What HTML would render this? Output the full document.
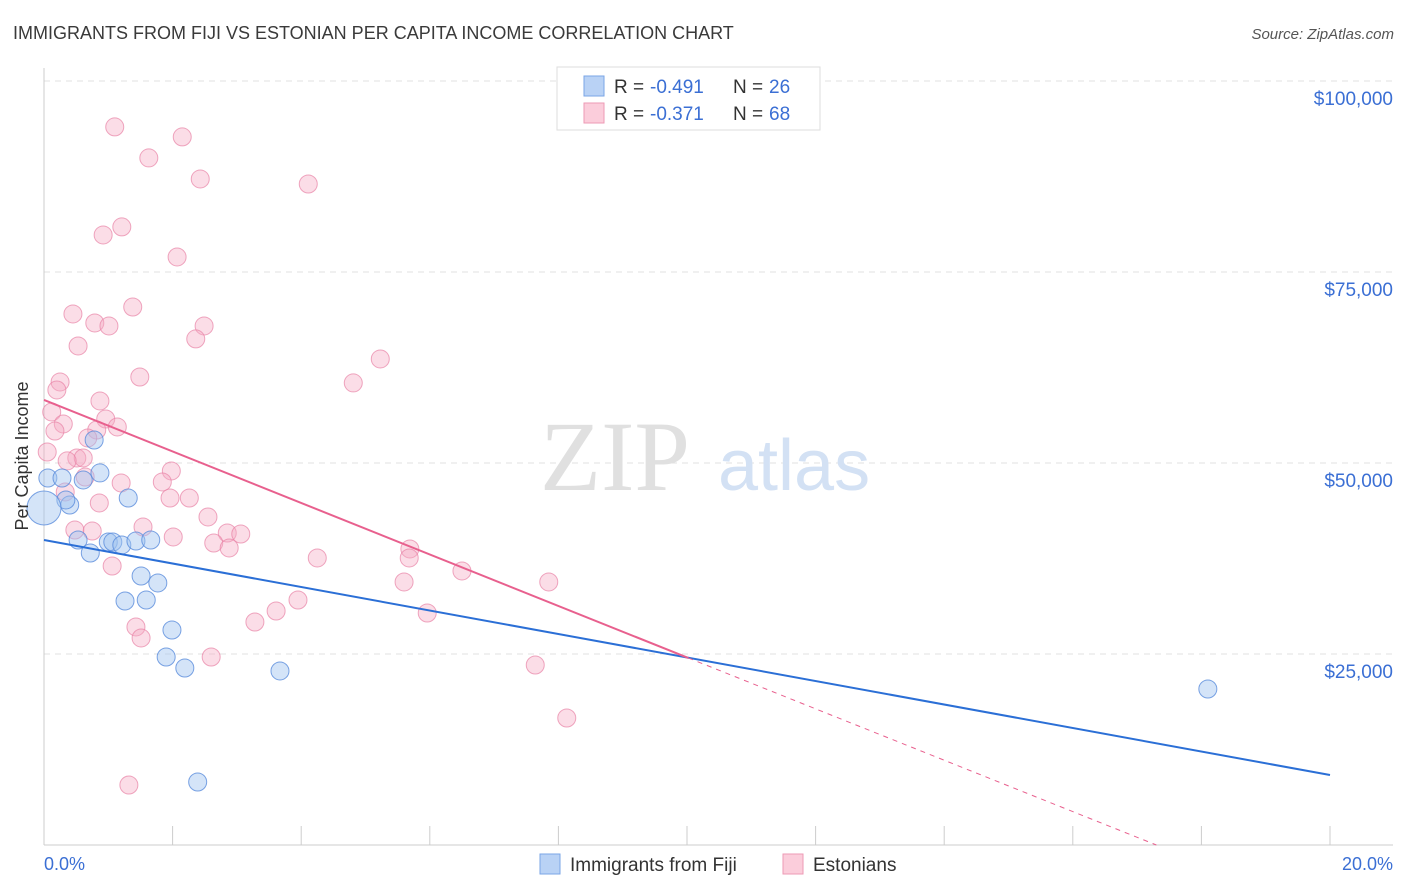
<!DOCTYPE html>
<html><head><meta charset="utf-8">
<style>
body{margin:0;background:#fff;font-family:"Liberation Sans",sans-serif;}
svg{display:block}
</style></head>
<body>
<svg width="1406" height="892" viewBox="0 0 1406 892">
<text x="13" y="39" font-size="18" fill="#3a3a3a">IMMIGRANTS FROM FIJI VS ESTONIAN PER CAPITA INCOME CORRELATION CHART</text>
<text x="1394" y="39" font-size="15" fill="#555" font-style="italic" text-anchor="end">Source: ZipAtlas.com</text>
<g id="grid"></g>
<g id="axes"></g>
<text x="690" y="490" font-size="100" fill="#e0e0e0" text-anchor="end" font-family="Liberation Serif,serif">ZIP</text>
<text x="718" y="490" font-size="72" fill="#d3e1f4">atlas</text>
<g id="pts"></g>
<g id="lines"></g>
<text transform="translate(28,456) rotate(-90)" font-size="18" fill="#333" text-anchor="middle">Per Capita Income</text>
<text x="44" y="870" font-size="18" fill="#3b6fd4">0.0%</text>
<text x="1393" y="870" font-size="18" fill="#3b6fd4" text-anchor="end">20.0%</text>
<g>
<rect x="557" y="67" width="263" height="63" fill="#fff" stroke="#ddd"/>
<rect x="584" y="76" width="20" height="20" fill="#b9d2f5" stroke="#7aa5e6"/>
<rect x="584" y="103" width="20" height="20" fill="#fbcddb" stroke="#ee9ab5"/>
<text x="614" y="93" font-size="19" fill="#333">R =</text>
<text x="650" y="93" font-size="19" fill="#3b6fd4">-0.491</text>
<text x="733" y="93" font-size="19" fill="#333">N =</text>
<text x="769" y="93" font-size="19" fill="#3b6fd4">26</text>
<text x="614" y="120" font-size="19" fill="#333">R =</text>
<text x="650" y="120" font-size="19" fill="#3b6fd4">-0.371</text>
<text x="733" y="120" font-size="19" fill="#333">N =</text>
<text x="769" y="120" font-size="19" fill="#3b6fd4">68</text>
</g>
<g>
<rect x="540" y="854" width="20" height="20" fill="#b9d2f5" stroke="#7aa5e6"/>
<text x="570" y="871" font-size="19" fill="#333">Immigrants from Fiji</text>
<rect x="783" y="854" width="20" height="20" fill="#fbcddb" stroke="#ee9ab5"/>
<text x="813" y="871" font-size="19" fill="#333">Estonians</text>
</g>
</svg>
<script>
const yTicks=[25000,50000,75000,100000];
const yTickLabels=["$25,000","$50,000","$75,000","$100,000"];
const xTicks=[0,2,4,6,8,10,12,14,16,18,20];
const fijiX=[0.06,0.28,0.40,0.34,0.61,0.87,0.78,0.53,0.72,1.0,1.07,1.21,1.31,1.43,1.66,1.51,1.77,1.26,1.59,1.99,1.90,2.19,3.67,2.39,18.1,0.0];
const fijiY=[48040,48040,44500,45160,47780,48700,53010,39920,38220,39660,39660,39270,45420,39790,39920,35210,34300,31940,32070,28140,24610,23170,22780,8250,20420,44110];
const fijiSize=[9,9,9,9,9,9,9,9,9,9,9,9,9,9,9,9,9,9,9,9,9,9,9,9,9,17];
const estX=[1.10,2.15,1.63,2.43,4.11,0.92,1.21,2.07,0.45,1.38,0.79,1.01,2.49,2.36,0.53,5.23,1.49,0.25,0.20,4.81,0.87,0.12,0.96,0.30,0.17,0.82,1.14,0.68,0.05,0.51,0.61,0.36,1.98,0.64,1.20,1.84,0.33,1.96,2.26,0.86,2.55,0.48,0.75,1.54,2.01,2.85,3.06,2.64,2.88,4.25,5.69,5.68,1.06,6.50,5.60,7.85,3.95,5.96,3.61,3.28,1.43,1.51,2.60,7.64,8.13,1.32];
const estY=[93990,92680,89930,87180,86520,79850,80900,76970,69510,70420,68330,67940,67940,66240,65320,63620,61260,60610,59560,60480,58120,56680,55760,55110,54190,54320,54720,53280,51440,50660,50660,50270,48960,48170,47390,47520,46210,45420,45420,44770,42940,41230,41100,41630,40320,40840,40710,39530,38880,37570,38750,37570,36520,35870,34430,34430,32070,30370,30630,29190,28540,27100,24610,23560,16620,7850];
const fijiTrend=[[0,39920],[20,9160]];
const estTrend=[[0,58250],[10.02,24480],[17.3,0]];
const NS="http://www.w3.org/2000/svg";
const X=v=>44+v/20*1286;
const Y=v=>845-v/25000*191;
function mk(t,a,p){const e=document.createElementNS(NS,t);for(const k in a)e.setAttribute(k,a[k]);p.appendChild(e);return e;}
const grid=document.getElementById('grid'),axes=document.getElementById('axes'),pts=document.getElementById('pts'),lines=document.getElementById('lines');
yTicks.forEach((v,i)=>{
 const l=mk('line',{x1:44,x2:1393,y1:Y(v),y2:Y(v),stroke:'#e2e2e2','stroke-dasharray':'6,5'},grid);
 
 
 const t=mk('text',{x:1393,y:Y(v)+24,'font-size':19,fill:'#3b6fd4','text-anchor':'end'},grid);
 t.textContent=yTickLabels[i];
 
 
});
mk('line',{x1:44,x2:44,y1:68,y2:845,stroke:'#ccc'},axes);
mk('line',{x1:44,x2:1393,y1:845,y2:845,stroke:'#ccc'},axes);
xTicks.forEach(v=>{
 const t=mk('line',{x1:X(v),x2:X(v),y1:826,y2:845,stroke:'#ccc'},axes);
 
 
});
estX.forEach((v,i)=>{
 const c=mk('circle',{cx:X(v),cy:Y(estY[i]),r:9,fill:'rgba(246,170,195,0.4)',stroke:'rgba(232,130,165,0.7)','stroke-width':1},pts);
 
 
});
fijiX.forEach((v,i)=>{
 const c=mk('circle',{cx:X(v),cy:Y(fijiY[i]),r:fijiSize[i],fill:'rgba(160,195,240,0.45)',stroke:'rgba(90,140,220,0.8)','stroke-width':1},pts);
 
 
});
const fl=mk('line',{x1:X(fijiTrend[0][0]),y1:Y(fijiTrend[0][1]),x2:X(fijiTrend[1][0]),y2:Y(fijiTrend[1][1]),stroke:'#2b6fd6','stroke-width':2},lines);


const el=mk('line',{x1:X(estTrend[0][0]),y1:Y(estTrend[0][1]),x2:X(estTrend[1][0]),y2:Y(estTrend[1][1]),stroke:'#e8608e','stroke-width':2},lines);


const ed=mk('line',{x1:X(estTrend[1][0]),y1:Y(estTrend[1][1]),x2:X(estTrend[2][0]),y2:Y(estTrend[2][1]),stroke:'#e8608e','stroke-width':1,'stroke-dasharray':'5,5'},lines);


</script>
</body></html>
